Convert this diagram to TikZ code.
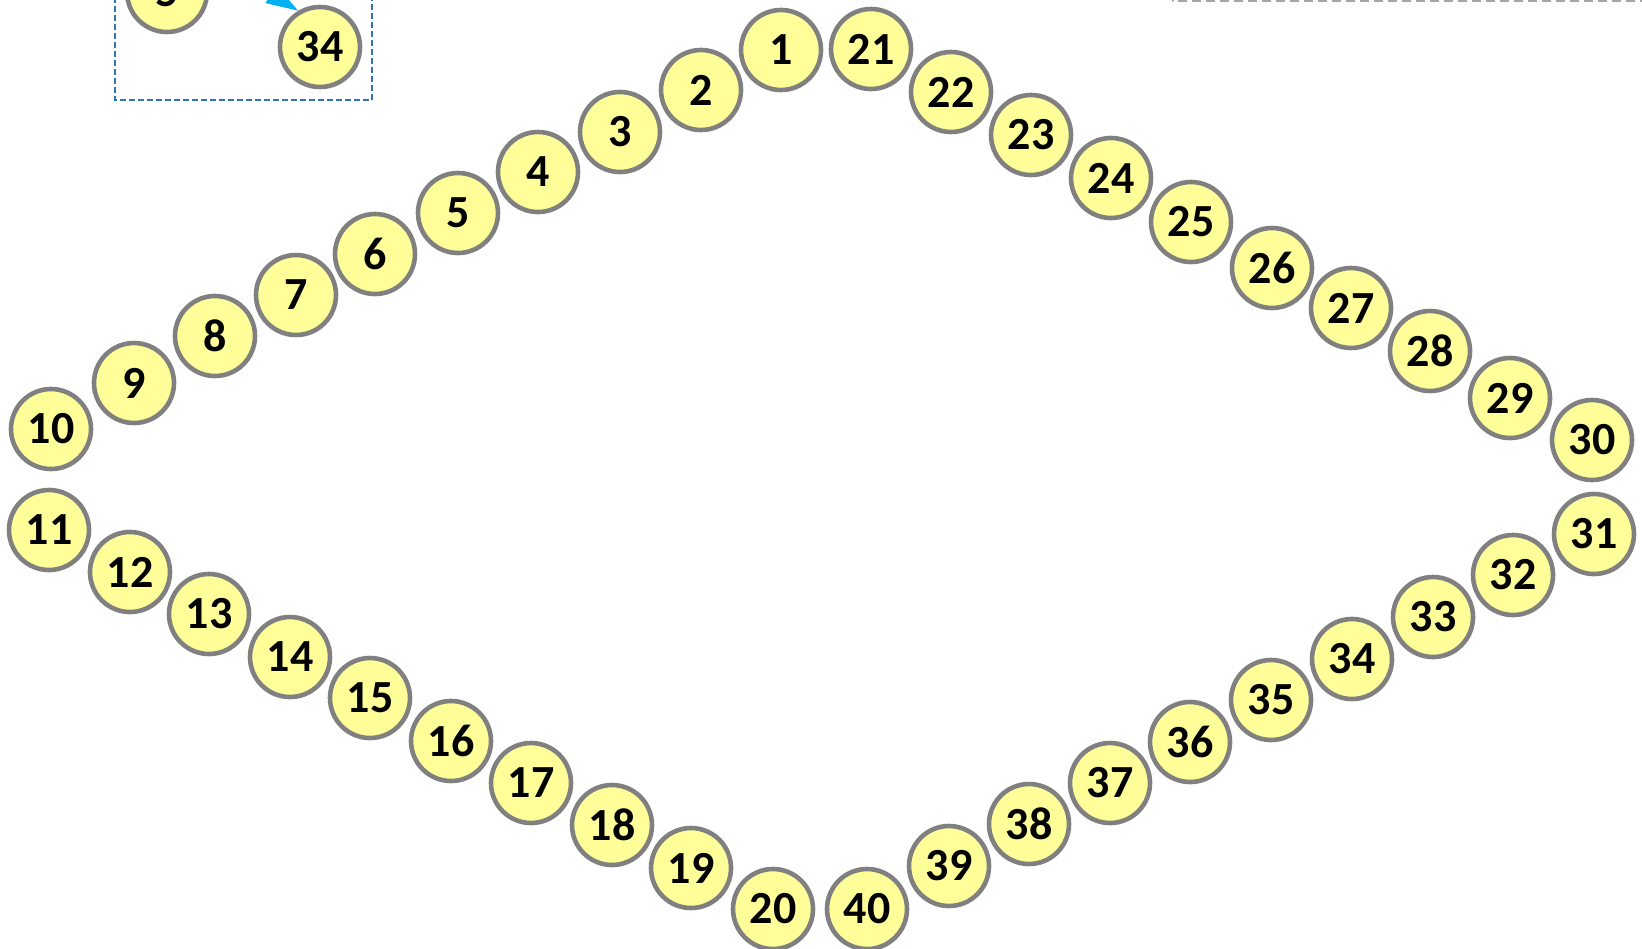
\documentclass[tikz,border=0pt]{standalone}
\usepackage{fontspec}
\setmainfont{Carlito}
\usetikzlibrary{arrows.meta}
\definecolor{ballfill}{HTML}{FFFF99}
\definecolor{ballline}{HTML}{808080}
\definecolor{frameblue}{HTML}{2E75B6}
\definecolor{framegray}{HTML}{A6A6A6}
\definecolor{arrcyan}{HTML}{00B0F0}

\begin{document}
\begin{tikzpicture}[x=0.5pt, y=-0.5pt,
  ball/.style={draw=ballline, fill=ballfill, circle, line width=2.3pt,
               minimum size=40pt, inner sep=0pt,
               font=\bfseries\fontsize{23}{23}\selectfont},
  frame/.style={line width=1pt, dash pattern=on 3pt off 1.5pt},
  arr/.style={-{Triangle[length=16pt,width=10pt]}, line width=1.5pt, draw=arrcyan}
]
\useasboundingbox (0,0) rectangle (1642,948);
\clip (0,0) rectangle (1642,948);

% frames cut by the page edge
\draw[frame, draw=frameblue] (115,-120) rectangle (372,100);
\draw[frame, draw=framegray, dash pattern=on 4.5pt off 2.5pt] (1173,-120) rectangle (1720,1);

% inset
\node[ball] (i5)  at (167,-8) {5};
\node[ball] (i34) at (320,47) {34};
\coordinate (ia) at (198,-50);
\draw[arr] (ia) -- (i34.121);

% upper left side
\foreach \n/\x/\y in {1/781/50, 2/701/90, 3/620/132, 4/538/172, 5/458/213,
                      6/375/254, 7/296/295, 8/215/336, 9/134/383, 10/51/429}
  \node[ball] (b\n) at (\x,\y) {\n};
% lower left side
\foreach \n/\x/\y in {11/49/530, 12/130/572, 13/209/614, 14/290/657, 15/370/698,
                      16/451/741, 17/531/783, 18/612/825, 19/691/868, 20/773/909}
  \node[ball] (b\n) at (\x,\y) {\n};
% upper right side
\foreach \n/\x/\y in {21/871/49, 22/951/92, 23/1031/135, 24/1111/178, 25/1191/222,
                      26/1272/268, 27/1351/308, 28/1430/351, 29/1510/398, 30/1592/440}
  \node[ball] (b\n) at (\x,\y) {\n};
% lower right side
\foreach \n/\x/\y in {31/1594/534, 32/1513/575, 33/1433/617, 34/1352/659, 35/1271/700,
                      36/1190/742, 37/1110/783, 38/1029/824, 39/949/866, 40/867/909}
  \node[ball] (b\n) at (\x,\y) {\n};
\end{tikzpicture}
\end{document}
